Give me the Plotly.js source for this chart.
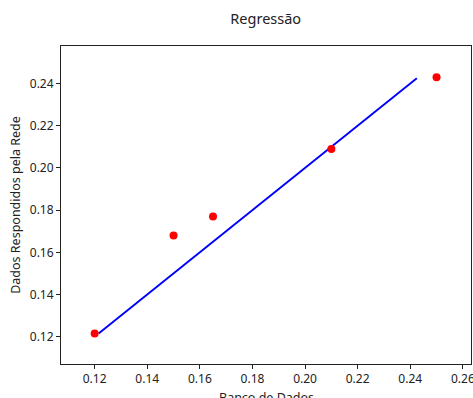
<!DOCTYPE html>
<html>
<head>
<meta charset="utf-8">
<script src="https://cdn.plot.ly/plotly-3.0.1.min.js"></script>
<style>html,body{margin:0;padding:0;background:#fff;}#chart{width:473px;height:398px;}</style>
</head>
<body>
<div id="chart"></div>
<script>
// Data
const bancoDeDados = [0.12, 0.15, 0.165, 0.21, 0.25];
const respondidosRede = [0.1215, 0.168, 0.177, 0.209, 0.243];
const linhaX = [0.1215, 0.168, 0.177, 0.209, 0.2425];
const linhaY = [0.1215, 0.168, 0.177, 0.209, 0.2425];
const xTicks = [0.12, 0.14, 0.16, 0.18, 0.20, 0.22, 0.24, 0.26];
const yTicks = [0.12, 0.14, 0.16, 0.18, 0.20, 0.22, 0.24];
const xLabel = 'Banco de Dados';
const yLabel = 'Dados Respondidos pela Rede';

const font = "Noto Sans, sans-serif";

const traces = [
  {x: linhaX, y: linhaY, mode: 'lines', type: 'scatter',
   line: {color: '#0000ff', width: 1.9}, hoverinfo: 'skip'},
  {x: bancoDeDados, y: respondidosRede, mode: 'markers', type: 'scatter',
   marker: {color: '#ff0000', size: 8}}
];

const axisCommon = {
  showgrid: false, zeroline: false,
  showline: true, linecolor: '#222', linewidth: 1, mirror: true,
  ticks: 'outside', ticklen: 4, tickcolor: '#222', tickwidth: 1,
  tickfont: {family: font, size: 12, color: '#222'},
  tickformat: '.2f',
  ticklabeloverflow: 'allow'
};

const layout = {
  width: 473, height: 398,
  margin: {l: 61, r: 2, t: 46, b: 34},
  paper_bgcolor: '#fff', plot_bgcolor: '#fff',
  showlegend: false,
  title: {text: 'Regressão', font: {family: font, size: 14.5, color: '#222'},
          x: 0.5618, xanchor: 'center', y: 0.952, yanchor: 'middle'},
  xaxis: Object.assign({}, axisCommon, {
    range: [0.1072, 0.2631], tickvals: xTicks
  }),
  yaxis: Object.assign({}, axisCommon, {
    range: [0.1071, 0.2578], tickvals: yTicks,
    title: {text: yLabel, font: {family: font, size: 12.5, color: '#222'}, standoff: 6}
  }),
  annotations: [{
    text: xLabel, xref: 'paper', yref: 'paper', x: 0.5, y: -0.072,
    xanchor: 'center', yanchor: 'top', showarrow: false,
    font: {family: font, size: 12.5, color: '#222'}
  }]
};

Plotly.newPlot('chart', traces, layout, {displayModeBar: false, staticPlot: true});
</script>
</body>
</html>
